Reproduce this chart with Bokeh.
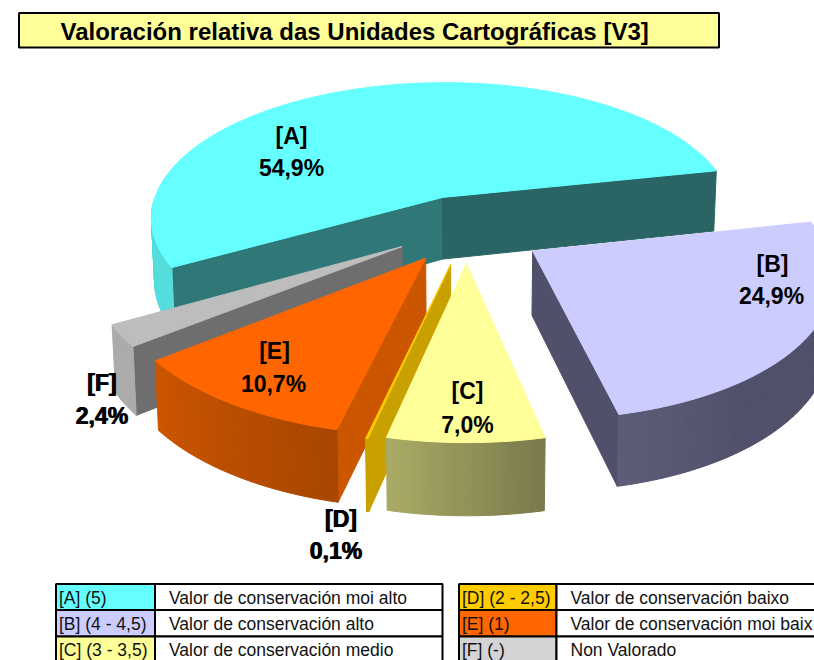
import numpy as np
from bokeh.plotting import figure
from bokeh.models import ColumnDataSource
from bokeh.core.properties import value
from bokeh.embed import file_html
from bokeh.resources import INLINE

# ---------- data ----------
title = "Valoración relativa das Unidades Cartográficas [V3]"
codes = ["[A]", "[B]", "[C]", "[D]", "[E]", "[F]"]
percent = [54.9, 24.9, 7.0, 0.1, 10.7, 2.4]
ranges = ["(5)", "(4 - 4,5)", "(3 - 3,5)", "(2 - 2,5)", "(1)", "(-)"]
meanings = ["Valor de conservación moi alto", "Valor de conservación alto",
            "Valor de conservación medio", "Valor de conservación baixo",
            "Valor de conservación moi baix", "Non Valorado"]
legend_fill = ["#66FFFF", "#CCCCFF", "#FFFF99", "#FFCC00", "#FF6600", "#D4D4D4"]

# ---------- styles ----------
top_col = ["#66FFFF", "#CCCCFF", "#FFFF99", "#FFCC00", "#FF6600", "#BDBDBD"]
cut_end = ["#2A6464", "#50506A", "#7F7F4F", "#C8A000", "#CC5500", "#6E6E6E"]
cut_start = ["#307878", "#50506A", "#7F7F4F", "#C8A000", "#CC5500", "#6E6E6E"]
side_a = ["#55DDDD", "#5C5C78", "#AAAA66", "#C8A000", "#CC5500", "#ABABAB"]
side_b = ["#55DDDD", "#50506A", "#7A7A4C", "#C8A000", "#A84600", "#ABABAB"]
side_rate = [1, 3, 1, 1, 1, 1]
explode = [0.25, 0.27, 0.23, 0.24, 0.23, 0.233]
explode_turn = [-4.0, 0.0, 2.5, 3.0, 0.0, -4.4]
radius_scale = [1.0, 0.97, 1.0, 1.0, 1.0, 1.0]
start_deg = 209.7          # ground angle where A starts, slices run clockwise
x0, y0, S, SK, P, H, C = 463.0, 229.5, 298.0, 141.0, 0.15, 86.0, 0.36
paint_order = [0, 1, 5, 4, 3, 2]


def project(X, Y):
    w = 1 + P * np.asarray(Y, float)
    return x0 + S * np.asarray(X, float) / w, y0 - SK * np.asarray(Y, float) / w, H / (w + C)


def hexmix(a, b, t):
    ca = [int(a[i:i + 2], 16) for i in (1, 3, 5)]
    cb = [int(b[i:i + 2], 16) for i in (1, 3, 5)]
    return "#%02x%02x%02x" % tuple(int(round(u + (v - u) * t)) for u, v in zip(ca, cb))


faces = dict(xs=[], ys=[], c=[])


def add(xs, ys, c):
    faces["xs"].append(list(map(float, xs)))
    faces["ys"].append(list(map(float, ys)))
    faces["c"].append(c)


total = sum(percent)
bounds = [start_deg]
for v in percent:
    bounds.append(bounds[-1] - v / total * 360.0)


def drop(sx, sy, d):
    return x0 + (sx - x0) * 0.99, sy + d


for i in paint_order:
    a0, a1 = bounds[i], bounds[i + 1]      # a0 > a1, clockwise
    mid = np.radians((a0 + a1) / 2 + explode_turn[i])
    ox, oy = explode[i] * np.cos(mid), explode[i] * np.sin(mid)
    th = np.radians(np.linspace(a1, a0, max(6, int(a0 - a1))))
    X, Y = ox + radius_scale[i] * np.cos(th), oy + radius_scale[i] * np.sin(th)
    ax, ay, ad = project(ox, oy)
    sx, sy, sd = project(X, Y)
    bx, by = drop(sx, sy, sd)
    abx, aby = drop(ax, ay, ad)
    cx_, cy_ = -ox, -1 / P - oy     # towards the viewer
    for k, col, sgn in ((-1, cut_start[i], 1), (0, cut_end[i], -1)):
        cross = np.cos(th[k]) * cy_ - np.sin(th[k]) * cx_
        if cross * sgn > 0:
            add([ax, sx[k], bx[k], abx], [ay, sy[k], by[k], aby], col)
    front = np.where(np.sin(th) < 0)[0]
    n = len(front)
    for j, (u, v) in enumerate(zip(front[:-1], front[1:])):
        if v != u + 1:
            continue
        t = min(1.0, side_rate[i] * j / max(n - 2, 1))
        add([sx[u], sx[v], bx[v], bx[u]], [sy[u], sy[v], by[v], by[u]], hexmix(side_a[i], side_b[i], t))
    add([ax, *sx], [ay, *sy], top_col[i])

p = figure(width=814, height=660, x_range=(0, 814), y_range=(660, 0),
           toolbar_location=None, output_backend="svg", min_border=0,
           outline_line_color=None, x_axis_location=None, y_axis_location=None)
p.grid.visible = False
p.background_fill_color = "white"
src = ColumnDataSource(faces)
p.patches("xs", "ys", source=src, fill_color="c", line_color="c", line_width=1)

# ---------- title ----------
p.quad(left=[18.5], right=[718.5], top=[12.5], bottom=[47], fill_color="#FFFF99",
       line_color="black", line_width=2)
p.text([60], [30.5], text=[title], text_font=value("Liberation Sans"), text_font_style="bold",
       text_font_size="24px", text_baseline="middle", text_color="black")

# ---------- slice labels ----------
code_x = [291, 772, 467, 340, 274, 101]
pct_x = [291, 771, 467, 335, 273, 101]
label_code_y = [135, 263, 390, 518, 350, 382]
label_pct_y = [167, 295, 424, 550, 383, 415]
heavy = [False, False, False, True, False, True]
pct_text = [f"{v:.1f}%".replace(".", ",") for v in percent]
for dx in (0, 1):
    idx = [i for i in range(6) if dx == 0 or heavy[i]]
    for xs, ys, txt in ((code_x, label_code_y, codes), (pct_x, label_pct_y, pct_text)):
        p.text([xs[i] + dx for i in idx], [ys[i] for i in idx], text=[txt[i] for i in idx],
               text_font=value("Liberation Sans"), text_font_style="bold", text_font_size="23px",
               text_align="center", text_baseline="middle", text_color="black")

# ---------- legend tables ----------
table_left = [55.5, 55.5, 55.5, 458.5, 458.5, 458.5]
table_split = [154.5, 154.5, 154.5, 556, 556, 556]
table_right = [442, 442, 442, 830, 830, 830]
row_top = [583.5, 609.5, 636, 583.5, 609.5, 636]
row_bot = [609.5, 636, 662, 609.5, 636, 662]
p.quad(left=table_left, right=table_split, top=row_top, bottom=row_bot, fill_color=legend_fill,
       line_color="black", line_width=2)
p.quad(left=table_split, right=table_right, top=row_top, bottom=row_bot, fill_color="white",
       line_color="black", line_width=2)
mid_y = [(a + b) / 2 + 0.5 for a, b in zip(row_top, row_bot)]
p.text([l + 3 for l in table_left], mid_y, text=[f"{c} {r}" for c, r in zip(codes, ranges)],
       text_font=value("Liberation Sans"), text_font_size="17.5px", text_baseline="middle", text_color="#111111")
p.text([s + 14 for s in table_split], mid_y, text=meanings,
       text_font=value("Liberation Sans"), text_font_size="17.5px", text_baseline="middle", text_color="#111111")

open("out.html", "w").write(file_html(p, INLINE))
